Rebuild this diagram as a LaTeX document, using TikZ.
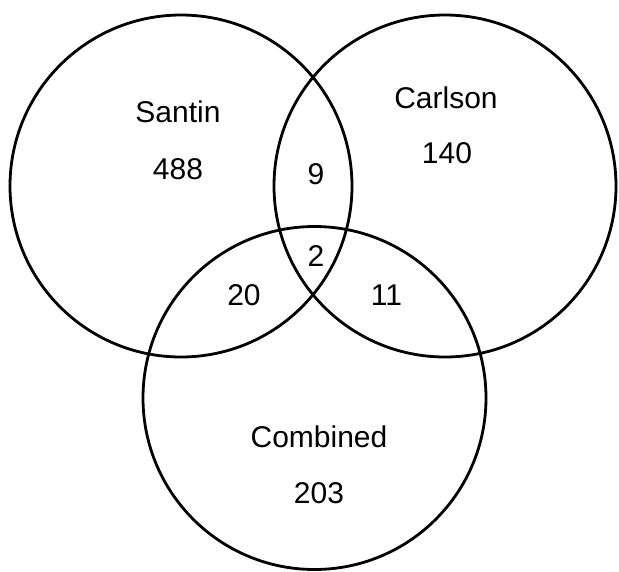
\documentclass[tikz,border=0pt]{standalone}
\usepackage{fontspec}
\setmainfont{Liberation Sans}
\begin{document}
\begin{tikzpicture}[x=1pt,y=-1pt,
  ring/.style={draw=black,line width=2.8pt},
  lbl/.style={anchor=base,inner sep=0pt,font=\fontsize{30}{36}\selectfont}]
\useasboundingbox (0,0) rectangle (619,571);
\draw[ring] (181,186) circle[radius=171];
\draw[ring] (445,186) circle[radius=171];
\draw[ring] (314.5,398) circle[radius=171.5];
\node[lbl] (santin) at (178,122) {Santin};
\node[lbl] (n488) at (178,179) {488};
\node[lbl] (carlson) at (446,108.5) {Carlson};
\node[lbl] (n140) at (447,163.5) {140};
\node[lbl] (n9) at (316,184) {9};
\node[lbl] (n2) at (316,266) {2};
\node[lbl] (n20) at (244,305.5) {20};
\node[lbl] (n11) at (386.5,305.5) {11};
\node[lbl] (combined) at (319,447) {Combined};
\node[lbl] (n203) at (319,503.5) {203};
\end{tikzpicture}
\end{document}
